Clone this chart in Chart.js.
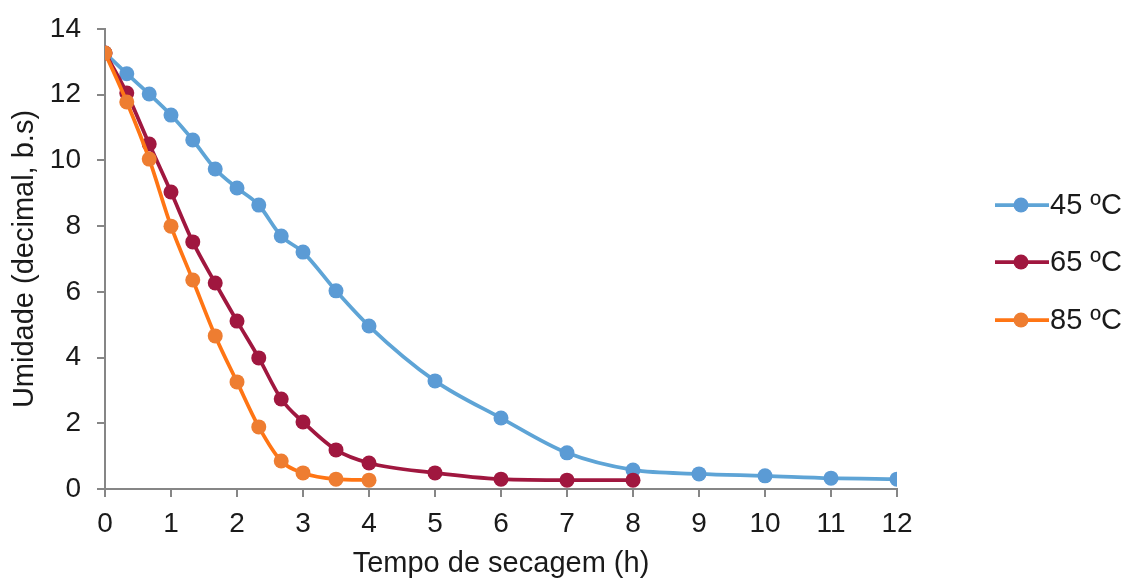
<!DOCTYPE html>
<html>
<head>
<meta charset="utf-8">
<script src="https://cdn.jsdelivr.net/npm/chart.js@4/dist/chart.umd.min.js"></script>
<style>
  html, body { margin: 0; padding: 0; background: #fff; }
  #wrap { width: 1127px; height: 581px; }
</style>
</head>
<body>
<div id="wrap"><canvas id="mainchart" width="1127" height="581"></canvas></div>
<script>
// drying time (h) and moisture (decimal, dry basis)
var seriesNames = ['45 ºC', '65 ºC', '85 ºC'];

var time45 = [0, 0.33, 0.67, 1, 1.33, 1.67, 2, 2.33, 2.67, 3, 3.5, 4, 5, 6, 7, 8, 9, 10, 11, 12];
var moist45 = [13.27, 12.64, 12.02, 11.38, 10.62, 9.74, 9.16, 8.64, 7.70, 7.21, 6.03, 4.96, 3.29, 2.16, 1.10, 0.58, 0.46, 0.40, 0.33, 0.30];

var time65 = [0, 0.33, 0.67, 1, 1.33, 1.67, 2, 2.33, 2.67, 3, 3.5, 4, 5, 6, 7, 8];
var moist65 = [13.27, 12.05, 10.50, 9.04, 7.52, 6.27, 5.11, 3.99, 2.74, 2.04, 1.19, 0.79, 0.49, 0.30, 0.27, 0.27];

var time85 = [0, 0.33, 0.67, 1, 1.33, 1.67, 2, 2.33, 2.67, 3, 3.5, 4];
var moist85 = [13.27, 11.78, 10.04, 8.00, 6.36, 4.66, 3.26, 1.89, 0.85, 0.49, 0.30, 0.27];

var lineColors = ['#5EA4D6', '#A0173F', '#FF7514'];
var markColors = ['#5B9BD5', '#A0173F', '#EE7D31'];

var fontFam = "'Liberation Sans', Arial, sans-serif";
var axisGray = '#868686';
var textColor = '#1a1a1a';

function pts(xs, ys) {
  return xs.map(function (x, i) { return { x: x, y: ys[i] }; });
}

function makeSet(i, xs, ys, order) {
  return {
    label: seriesNames[i],
    data: pts(xs, ys),
    borderColor: lineColors[i],
    backgroundColor: markColors[i],
    pointBackgroundColor: markColors[i],
    pointBorderColor: markColors[i],
    borderWidth: 3.75,
    pointRadius: 7.5,
    pointBorderWidth: 0,
    cubicInterpolationMode: 'monotone',
    order: order
  };
}

// line + dot legend drawn on the right, like the spreadsheet one
var sideLegend = {
  id: 'sideLegend',
  afterDraw: function (chart) {
    var ctx = chart.ctx;
    var x0 = chart.chartArea.right + 98;
    var ys = [205, 262, 320];
    ctx.save();
    for (var i = 0; i < seriesNames.length; i++) {
      ctx.strokeStyle = lineColors[i];
      ctx.lineWidth = 3.75;
      ctx.beginPath();
      ctx.moveTo(x0, ys[i]);
      ctx.lineTo(x0 + 54, ys[i]);
      ctx.stroke();
      ctx.fillStyle = markColors[i];
      ctx.beginPath();
      ctx.arc(x0 + 26, ys[i], 7.5, 0, Math.PI * 2);
      ctx.fill();
      ctx.fillStyle = textColor;
      ctx.font = '29px ' + fontFam;
      ctx.textBaseline = 'middle';
      ctx.textAlign = 'left';
      ctx.fillText(seriesNames[i], x0 + 55, ys[i] + 1);
    }
    ctx.restore();
  }
};

new Chart('mainchart', {
  type: 'line',
  data: {
    datasets: [
      makeSet(0, time45, moist45, 3),
      makeSet(1, time65, moist65, 2),
      makeSet(2, time85, moist85, 1)
    ]
  },
  options: {
    responsive: false,
    animation: false,
    layout: { padding: { top: 29, right: 230, left: 0, bottom: 0 } },
    plugins: {
      legend: { display: false },
      tooltip: { enabled: false }
    },
    scales: {
      x: {
        type: 'linear',
        min: 0,
        max: 12,
        afterFit: function (s) { s.height = 92; },
        border: { color: axisGray, width: 2 },
        grid: { drawOnChartArea: false, drawTicks: true, tickLength: 8, color: axisGray, lineWidth: 2 },
        ticks: { stepSize: 1, color: textColor, padding: 10, font: { family: fontFam, size: 28 } },
        title: { display: true, text: 'Tempo de secagem (h)', color: textColor, padding: { top: 0, bottom: 0 }, font: { family: fontFam, size: 29 } }
      },
      y: {
        min: 0,
        max: 14,
        afterFit: function (s) {
          s.width = 105;
          s.paddingTop = 0;
        },
        border: { color: axisGray, width: 2 },
        grid: { drawOnChartArea: false, drawTicks: true, tickLength: 8, color: axisGray, lineWidth: 2 },
        ticks: { stepSize: 2, color: textColor, padding: 16, font: { family: fontFam, size: 28 } },
        title: { display: true, text: 'Umidade (decimal, b.s)', color: textColor, padding: { top: 8, bottom: 0 }, font: { family: fontFam, size: 29 } }
      }
    }
  },
  plugins: [sideLegend]
});
</script>
</body>
</html>
